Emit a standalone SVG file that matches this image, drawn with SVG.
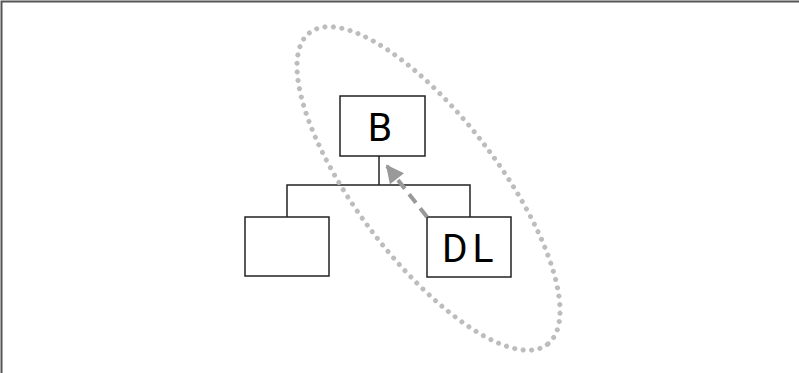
<svg xmlns="http://www.w3.org/2000/svg" width="799" height="373" viewBox="0 0 799 373">
<style>
.box{fill:#fff;stroke:#222;stroke-width:1.5}
.lbl{font-family:Roboto,"DejaVu Sans",sans-serif;font-size:39px;fill:#000}
.tree{fill:none;stroke:#222;stroke-width:1.5}
.dep{fill:none;stroke:#999;stroke-width:4;stroke-dasharray:11 7}
.grp{fill:none;stroke:#bdbdbd;stroke-width:5;stroke-dasharray:0 8.5;stroke-linecap:round}
</style>
<defs>
<marker id="ah" viewBox="0 0 10 10" refX="9" refY="5" markerWidth="5" markerHeight="4.5" orient="auto" markerUnits="strokeWidth">
<path d="M0,0 L10,5 L0,10 z" fill="#999"/>
</marker>
</defs>
<rect width="799" height="373" fill="#fff"/>
<path d="M1.5,373 V1.5 H799" fill="none" stroke="#555" stroke-width="2"/>
<g id="connectors">
<path class="tree" d="M379,156 V185 M287,217 V185 H470 V217"/>
</g>
<g id="node-B">
<rect class="box" x="340" y="96" width="85" height="60"/>
<text class="lbl" x="380" y="140.5" text-anchor="middle">B</text>
</g>
<g id="node-left">
<rect class="box" x="245" y="217" width="84" height="59"/>
</g>
<g id="node-DL">
<rect class="box" x="427" y="217" width="84" height="60"/>
<text class="lbl" x="442" y="262" letter-spacing="5">DL</text>
</g>
<g id="dependency">
<path class="dep" d="M427,217 L387,166" marker-end="url(#ah)"/>
</g>
<g id="group">
<ellipse class="grp" cx="428.5" cy="188.5" rx="196" ry="71" transform="rotate(52.7 428.5 188.5)"/>
</g>
</svg>
